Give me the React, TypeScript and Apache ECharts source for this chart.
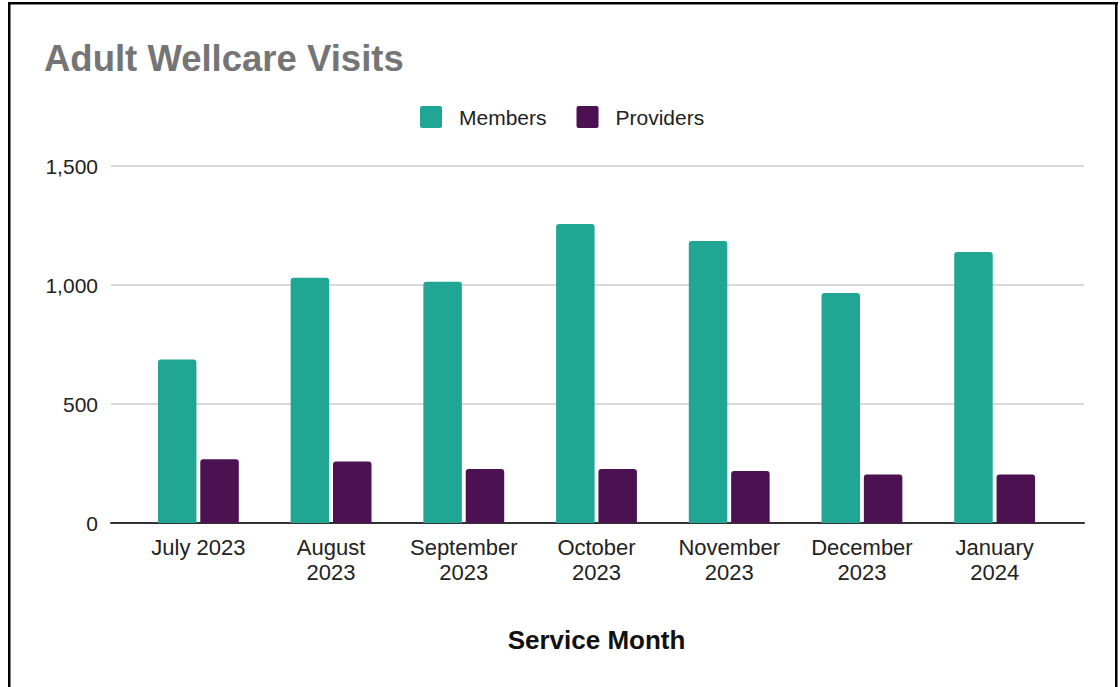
import React, { useEffect, useRef } from "react";
import * as echarts from "echarts";

const categories = [
  "July 2023",
  "August\n2023",
  "September\n2023",
  "October\n2023",
  "November\n2023",
  "December\n2023",
  "January\n2024",
];
const members = [687, 1030, 1014, 1256, 1185, 966, 1139];
const providers = [268, 258, 227, 227, 219, 204, 204];
const seriesNames = ["Members", "Providers"];
const yTicks = { min: 0, max: 1500, interval: 500 };

const FONT = "'Liberation Sans', Arial, sans-serif";
const LEGEND_ICON =
  "path://M2,0 H20 A2,2 0 0 1 22,2 V20 A2,2 0 0 1 20,22 H2 A2,2 0 0 1 0,20 V2 A2,2 0 0 1 2,0 Z";

export default function App() {
  const ref = useRef<HTMLDivElement>(null);
  useEffect(() => {
    document.body.style.margin = "0";
    const chart = echarts.init(ref.current!, null, { renderer: "svg" });
    const topPx = 166;
    const bottomPx = 687 - 523;
    chart.setOption({
      animation: false,
      backgroundColor: "#ffffff",
      textStyle: { fontFamily: FONT },
      title: {
        text: "Adult Wellcare Visits",
        left: 44,
        top: 40,
        padding: 0,
        textStyle: { fontFamily: FONT, fontSize: 36.5, fontWeight: "bold", color: "#757575" },
      },
      legend: {
        data: seriesNames,
        left: 420,
        top: 106,
        padding: 0,
        itemWidth: 22,
        itemHeight: 22,
        itemGap: 30,
        icon: LEGEND_ICON,
        textStyle: { fontFamily: FONT, fontSize: 21, color: "#222222", padding: [0, 0, 0, 12] },
      },
      grid: [
        { left: 111, right: 36, top: topPx, bottom: bottomPx },
        { left: 132, right: 59, top: topPx, bottom: bottomPx },
      ],
      xAxis: [
        {
          type: "category",
          gridIndex: 0,
          data: categories,
          axisLine: { show: true, lineStyle: { color: "#333333", width: 2 } },
          axisTick: { show: false },
          axisLabel: { show: false },
          splitLine: { show: false },
        },
        {
          type: "category",
          gridIndex: 1,
          data: categories,
          axisLine: { show: false },
          axisTick: { show: false },
          axisLabel: {
            fontFamily: FONT,
            fontSize: 22,
            color: "#222222",
            lineHeight: 25,
            margin: 12,
            interval: 0,
          },
          name: "Service Month",
          nameLocation: "middle",
          nameGap: 104,
          nameTextStyle: { fontFamily: FONT, fontSize: 26, fontWeight: "bold", color: "#111111" },
        },
      ],
      yAxis: [
        {
          type: "value",
          gridIndex: 0,
          min: yTicks.min,
          max: yTicks.max,
          interval: yTicks.interval,
          axisLine: { show: false },
          axisTick: { show: false },
          axisLabel: {
            fontFamily: FONT,
            fontSize: 21,
            color: "#222222",
            margin: 13,
            formatter: (v: number) => v.toLocaleString("en-US"),
          },
          splitLine: { lineStyle: { color: "#cccccc", width: 1.5 } },
        },
        {
          type: "value",
          gridIndex: 1,
          min: yTicks.min,
          max: yTicks.max,
          interval: yTicks.interval,
          show: false,
          splitLine: { show: false },
        },
      ],
      series: [
        {
          name: seriesNames[0],
          type: "bar",
          xAxisIndex: 1,
          yAxisIndex: 1,
          data: members,
          barWidth: 38.5,
          barGap: "10%",
          itemStyle: { color: "#21a694", borderRadius: [3, 3, 0, 0] },
        },
        {
          name: seriesNames[1],
          type: "bar",
          xAxisIndex: 1,
          yAxisIndex: 1,
          data: providers,
          barWidth: 38.5,
          barGap: "10%",
          itemStyle: { color: "#4b1150", borderRadius: [3, 3, 0, 0] },
        },
      ],
      graphic: [
        { type: "rect", shape: { x: 8, y: 2, width: 2.5, height: 700 }, style: { fill: "#000000" }, silent: true },
        { type: "rect", shape: { x: 8, y: 2, width: 1110, height: 2.5 }, style: { fill: "#000000" }, silent: true },
        { type: "rect", shape: { x: 1115, y: 2, width: 2.5, height: 700 }, style: { fill: "#000000" }, silent: true },
      ],
    });
    return () => chart.dispose();
  }, []);
  return <div ref={ref} style={{ width: 1120, height: 687 }} />;
}
